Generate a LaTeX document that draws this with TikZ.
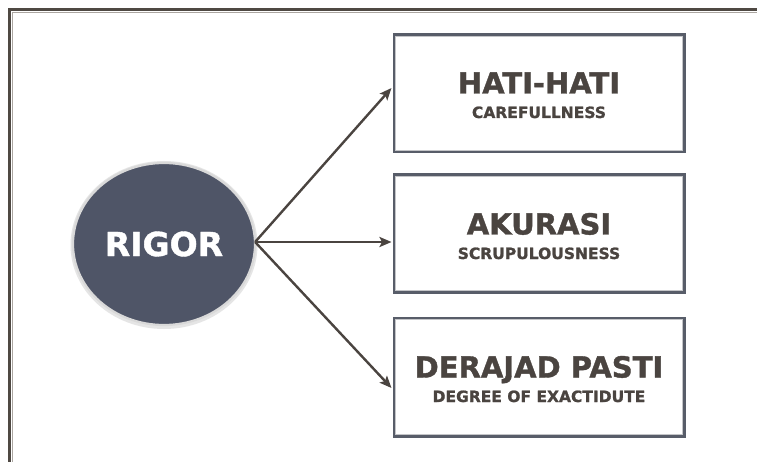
\documentclass[tikz,border=0pt]{standalone}
\usepackage{fontspec}
\setmainfont{DejaVu Sans}[BoldFeatures={FakeBold=1.2}]
\usetikzlibrary{shapes.geometric,arrows.meta}
\definecolor{framedark}{HTML}{4F4943}
\definecolor{framelight}{HTML}{ABA6A1}
\definecolor{boxedge}{HTML}{585D69}
\definecolor{boxinner}{HTML}{C4C5C8}
\definecolor{rigorfill}{HTML}{4F5567}
\definecolor{inkdark}{HTML}{4A4440}
\begin{document}
\begin{tikzpicture}[x=1pt,y=-1pt,
  itembox/.style={draw=boxedge, line width=3pt, fill=white,
    minimum width=290pt, minimum height=117pt, inner sep=0pt},
  innerline/.style={draw=boxinner, line width=1pt},
  title/.style={text=inkdark, font=\bfseries\fontsize{29}{31}\selectfont, inner sep=0pt},
  subtitle/.style={text=inkdark, font=\bfseries\fontsize{15.5}{17}\selectfont, inner sep=0pt},
  link/.style={draw=inkdark, line width=2.4pt,
    -{Stealth[length=12pt,width=10pt,inset=2.5pt]}}]
\useasboundingbox (0,0) rectangle (757,462);
\fill[white] (0,0) rectangle (757,462);

% page frame, open to the right and bottom
\draw[framedark, line width=3pt] (9.5,470) -- (9.5,9.5) -- (770,9.5);
\draw[framelight, line width=1.2pt] (12.3,470) -- (12.3,12.3) -- (770,12.3);

% central circle with a soft even rim
\fill[black!10] (164,245) ellipse (93.5pt and 84pt);
\node[ellipse, fill=rigorfill, draw=white!85!black, line width=2.2pt,
  minimum width=182pt, minimum height=162pt, inner sep=0pt,
  text=white, font=\bfseries\fontsize{33}{35}\selectfont] (rigor) at (164,244) {RIGOR};

% three boxes
\node[itembox] (b1) at (539,93.5) {};
\node[itembox] (b2) at (539,233.5) {};
\node[itembox, minimum height=118pt] (b3) at (539,377) {};
\foreach \b in {b1,b2,b3}
  \draw[innerline] ([shift={(3,3)}]\b.north west) rectangle ([shift={(-3,-3)}]\b.south east);

% labels
\node[title, anchor=base] (t1) at (539,93.5) {HATI-HATI};
\node[subtitle, anchor=base] (s1) at (539,118) {CAREFULLNESS};
\node[title, anchor=base] (t2) at (539,234.5) {AKURASI};
\node[subtitle, anchor=base] (s2) at (539,259) {SCRUPULOUSNESS};
\node[title, anchor=base] (t3) at (539,377.5) {DERAJAD PASTI};
\node[subtitle, anchor=base] (s3) at (539,402) {DEGREE OF EXACTIDUTE};

% connectors
\coordinate (hub) at ([shift={(-1,-2)}]rigor.east);
\draw[link] (hub) -- ([shift={(-1,-5.5)}]b1.west);
\draw[link] (hub) -- ([shift={(-1,8.5)}]b2.west);
\draw[link] (hub) -- ([shift={(-1,11)}]b3.west);
\end{tikzpicture}
\end{document}
